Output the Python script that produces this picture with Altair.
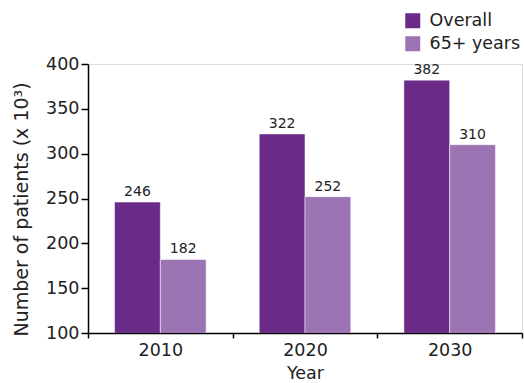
import altair as alt
import pandas as pd

years = ["2010", "2020", "2030"]
overall = [246, 322, 382]
senior = [182, 252, 310]
groups = ["Overall", "65+ years"]
colors = ["#6a2a88", "#9c74b4"]

rows = []
for i, y in enumerate(years):
    rows.append({"Year": y, "Group": groups[0], "Value": overall[i]})
    rows.append({"Year": y, "Group": groups[1], "Value": senior[i]})
df = pd.DataFrame(rows)

FONT = "DejaVu Sans"
TXT = "#222222"

x = alt.X("Year:N", sort=years, title="Year",
          scale=alt.Scale(paddingInner=0, paddingOuter=0),
          axis=alt.Axis(labelAngle=0, tickBand="extent", domainColor="black",
                        tickColor="black", tickSize=5, tickWidth=1.5, domainWidth=1.5,
                        labelFontSize=17.5, labelColor=TXT, labelPadding=3,
                        titleFontSize=17.5, titleFontWeight="normal", titleColor=TXT,
                        titlePadding=6, labelFont=FONT, titleFont=FONT))
xo = alt.XOffset("Group:N", sort=groups,
                 scale=alt.Scale(paddingInner=0, paddingOuter=0.58))
y = alt.Y("Value:Q", title="Number of patients (x 10³)",
          scale=alt.Scale(domain=[100, 400], nice=False, zero=False),
          axis=alt.Axis(values=[100, 150, 200, 250, 300, 350, 400], grid=False,
                        domainColor="black", tickColor="black", tickSize=7,
                        tickWidth=1.5, domainWidth=1.5,
                        labelFontSize=17.5, labelColor=TXT, labelPadding=2,
                        titleFontSize=19, titleFontWeight="normal", titleColor=TXT,
                        titlePadding=14, titleY=145, labelFont=FONT, titleFont=FONT))
color = alt.Color("Group:N", sort=groups,
                  scale=alt.Scale(domain=groups, range=colors),
                  legend=alt.Legend(title=None, orient="none", legendX=316, legendY=-52,
                                    symbolType="square", symbolSize=225,
                                    symbolStrokeWidth=0, labelFontSize=17.5,
                                    labelFont=FONT, labelColor=TXT,
                                    rowPadding=4, labelOffset=8))

bars = alt.Chart(df).mark_bar(clip=True, stroke="white", strokeWidth=0.5).encode(
    x=x, xOffset=xo, y=y, color=color)
labels = alt.Chart(df).mark_text(baseline="bottom", dy=-3, fontSize=14,
                                 font=FONT, color=TXT).encode(
    x=alt.X("Year:N", sort=years), xOffset=alt.XOffset("Group:N", sort=groups),
    y="Value:Q", text="Value:Q")

chart = alt.layer(bars, labels).properties(
    width=434, height=269,
    autosize=alt.AutoSizeParams(type="none"),
    padding={"left": 88, "top": 64, "right": 2, "bottom": 50},
).configure_view(stroke=None).configure(background="white")

chart.save("out.html", embed_options={"renderer": "svg", "actions": False})
